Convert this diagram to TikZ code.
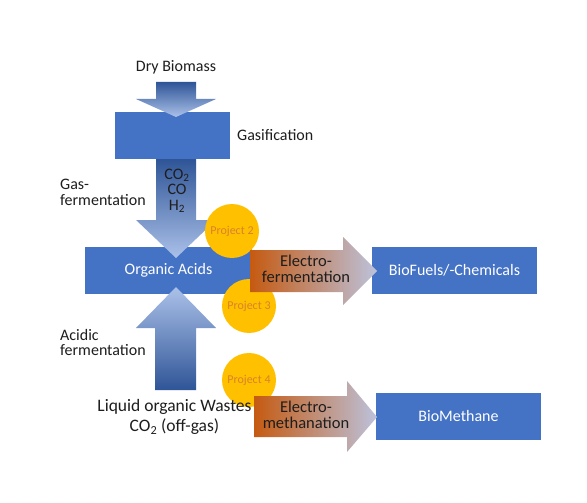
\documentclass[tikz,border=0pt]{standalone}
\usepackage{fontspec}
\setmainfont{Carlito}
\usetikzlibrary{positioning,calc}
\definecolor{BoxBlue}{HTML}{4472C4}
\definecolor{ArrDark}{HTML}{2F5597}
\definecolor{ArrLight}{HTML}{ABC1E9}
\definecolor{ElDark}{HTML}{C55A11}
\definecolor{ElMid}{HTML}{F4B183}
\definecolor{ElEnd}{HTML}{BCC2DC}
\definecolor{ProjFill}{HTML}{FFC000}
\definecolor{ProjText}{HTML}{D9822B}
\definecolor{Ink}{HTML}{1E1E1E}

\begin{document}
\begin{tikzpicture}[x=1pt,y=-1pt,font=\fontsize{16}{15.5}\selectfont,
  every node/.style={inner sep=0pt},
  blockbox/.style={fill=BoxBlue,text=white,minimum height=47pt},
  project/.style={circle,fill=ProjFill,text=ProjText,minimum size=54pt,font=\fontsize{12}{14}\selectfont},
  lbl/.style={text=Ink,align=left},
  downshade/.style={top color=ArrDark,bottom color=ArrLight},
  upshade/.style={top color=ArrLight,bottom color=ArrDark},
  elshade/.style={left color=ElDark,middle color=ElMid,right color=ElEnd}]
  \useasboundingbox[fill=white] (0,0) rectangle (587,503);

  % process boxes
  \node[blockbox,minimum width=115pt] (gasif) at (172.5,135.5) {};
  \node[blockbox,minimum width=167pt] (acids) at (168.5,270.5) {Organic Acids};
  \node[blockbox,minimum width=165pt] (fuels) at (454.5,270.5) {BioFuels/-Chemicals};
  \node[blockbox,minimum width=165pt] (methane) at (458.5,416.5) {BioMethane};

  % blue block arrows
  \shade[downshade] (156,82) -- (196,82) -- (196,99) -- (216,99) -- (176,117)
    -- (136,99) -- (156,99) -- cycle;
  \shade[downshade] (156,159) -- (196,159) -- (196,220) -- (216,220) -- (176,258)
    -- (136,220) -- (156,220) -- cycle;
  \shade[upshade] (155,390) -- (196,390) -- (196,328) -- (216,328) -- (176,287)
    -- (136,328) -- (155,328) -- cycle;

  % projects
  \node[project] (p2) at (232,231) {Project 2};
  \node[project] (p3) at (249,306) {Project 3};
  \node[project] (p4) at (249,380) {Project 4};

  % electro arrows
  \shade[elshade] (250,250) -- (343,250) -- (343,237) -- (377,271) -- (343,305)
    -- (343,292) -- (250,292) -- cycle;
  \shade[elshade] (254,396) -- (347,396) -- (347,381) -- (377,417) -- (347,452)
    -- (347,437) -- (254,437) -- cycle;
  \node[lbl,align=center,font=\fontsize{16.5}{16}\selectfont] (efer) at (306,269) {Electro-\\fermentation};
  \node[lbl,align=center,font=\fontsize{16.5}{16}\selectfont] (emet) at (306,415) {Electro-\\methanation};

  % labels
  \node[lbl] (dry) at (176,67) {Dry Biomass};
  \node[lbl,anchor=west] (gaslbl) at (237,135) {Gasification};
  \node[lbl,align=center] (gases) at (177,191) {CO\textsubscript{2}\\CO\\H\textsubscript{2}};
  \node[lbl,anchor=west] (gasferm) at (60,192.5) {Gas-\\fermentation};
  \node[lbl,anchor=west] (acidferm) at (60,342.5) {Acidic\\fermentation};
  \node[lbl,align=center,font=\fontsize{17.5}{20}\selectfont] (wastes) at (174.5,417) {Liquid organic Wastes\\CO\textsubscript{2} (off-gas)};
\end{tikzpicture}
\end{document}
